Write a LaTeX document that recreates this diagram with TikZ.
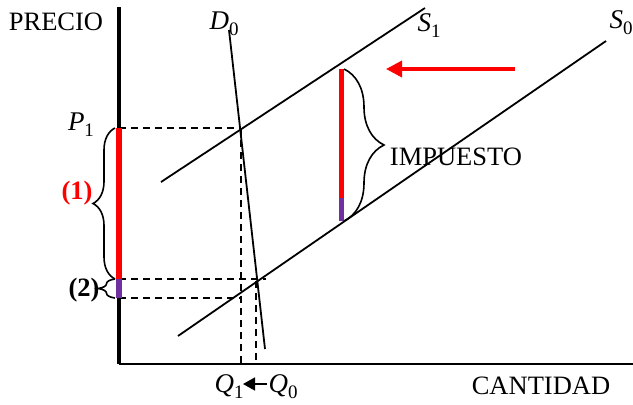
\documentclass[tikz,border=0pt]{standalone}
\usepackage{fontspec}
\setmainfont{Liberation Serif}
\usetikzlibrary{decorations.pathreplacing,arrows.meta}
\definecolor{taxred}{RGB}{255,0,0}
\definecolor{taxpurple}{RGB}{112,48,160}
\newcommand{\mlab}[2]{\textit{#1}\raisebox{-0.22em}{\fontsize{19}{20}\selectfont #2}}
\begin{document}
\begin{tikzpicture}[x=1pt,y=-1pt,
  font=\fontsize{26.5}{30}\selectfont,
  curve/.style={line width=1.8pt},
  guide/.style={line width=1.4pt,dash pattern=on 7pt off 5pt},
  bar/.style={line width=6pt},
  bracestyle/.style={line width=1.6pt,decorate,decoration={brace,amplitude=#1}},
  lbl/.style={inner sep=0pt},
  mathlbl/.style={inner sep=0pt,font=\fontsize{27}{30}\selectfont}]
\useasboundingbox (0,0) rectangle (633,405);
% axes
\coordinate (O) at (119,364);
\coordinate (Ytop) at (119,7);
\coordinate (Xend) at (633,364);
\draw[line width=3.5pt] (Ytop) -- (O);
\draw[line width=2pt] (O) -- (Xend);
% curves
\coordinate (Dt) at (229,30);
\coordinate (Db) at (265,349);
\coordinate (S1a) at (161,182);
\coordinate (S1b) at (425,8);
\coordinate (S0a) at (178,336);
\coordinate (S0b) at (606,41);
\coordinate (E1) at (240,128);
\coordinate (E0) at (257,281);
% guides
\coordinate (P1y) at (119,128);
\coordinate (P0y) at (119,279);
\coordinate (Pcy) at (119,298);
\coordinate (E0r) at (266,279);
\coordinate (Eq1) at (241,298);
\coordinate (Q1x) at (241,364);
\coordinate (Q0x) at (256,364);
\coordinate (Q1t) at (241,128);
\coordinate (Q0t) at (256,281);
\draw[guide] (P1y) -- (E1);
\draw[guide] (P0y) -- (E0r);
\draw[guide] (Pcy) -- (Eq1);
\draw[guide] (Q1t) -- (Q1x);
\draw[guide] (Q0t) -- (Q0x);
\draw[curve] (Dt) -- (Db);
\draw[curve] (S1a) -- (S1b);
\draw[curve] (S0a) -- (S0b);
% bars on price axis
\draw[bar,taxred] (P1y) -- (P0y);
\draw[bar,taxpurple] (P0y) -- (Pcy);
% tax bar
\coordinate (Tt) at (341,69);
\coordinate (Tm) at (341,198);
\coordinate (Tb) at (341,221);
\draw[bar,line width=5pt,taxred] (Tt) -- (Tm);
\draw[bar,line width=5pt,taxpurple] (Tm) -- (Tb);
% braces
\coordinate (B1a) at (115,279);
\coordinate (B1b) at (115,128);
\draw[bracestyle=22pt] (B1a) -- (B1b);
\coordinate (B2a) at (115,298);
\coordinate (B2b) at (115,279);
\draw[bracestyle=17pt] (B2a) -- (B2b);
\coordinate (B3a) at (344,69);
\coordinate (B3b) at (344,221);
\draw[bracestyle=40pt] (B3a) -- (B3b);
% red arrow
\coordinate (Ra) at (515,69);
\coordinate (Rb) at (386,69);
\draw[taxred,line width=3.5pt,-{Triangle[length=16pt,width=16pt]}] (Ra) -- (Rb);
% labels
\node[lbl] (precio) at (56,22) {PRECIO};
\node[lbl] (cantidad) at (541,386) {CANTIDAD};
\node[lbl] (impuesto) at (456,157) {IMPUESTO};
\node[mathlbl] (d0) at (224,24) {\mlab{D}{0}};
\node[mathlbl] (s1) at (429,26) {\mlab{S}{1}};
\node[mathlbl] (s0) at (621,23) {\mlab{S}{0}};
\node[mathlbl] (p1) at (81,125) {\mlab{P}{1}};
\node[lbl,text=taxred] (l1) at (77,193) {\bfseries (1)};
\node[lbl] (l2) at (84,290) {\bfseries (2)};
\node[mathlbl] (q1) at (229,387) {\mlab{Q}{1}};
\node[mathlbl] (q0) at (283,387) {\mlab{Q}{0}};
\coordinate (qa) at (267,384);
\coordinate (qb) at (243,384);
\draw[line width=1.6pt,-{Triangle[length=12pt,width=13pt]}] (qa) -- (qb);
\end{tikzpicture}
\end{document}
